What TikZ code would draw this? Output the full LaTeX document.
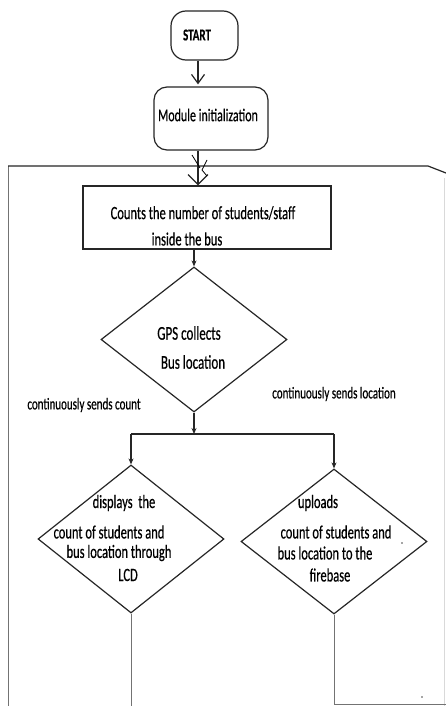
\documentclass[tikz,border=0pt]{standalone}
\usepackage{fontspec}
\setmainfont{Carlito}[FakeBold=0.6]
\usepackage{graphicx}
\usetikzlibrary{shapes.geometric,arrows.meta,calc}
\newcommand\sx[1]{\scalebox{1}[1.5]{#1}}
\begin{document}
\begin{tikzpicture}[x=1pt,y=-1pt,
  ln/.style={line width=1.2pt,draw=black!85},
  gry/.style={line width=1pt,draw=black!55},
  txt/.style={inner sep=0pt,font=\fontsize{12.5}{14}\selectfont},
  lbl/.style={inner sep=0pt,font=\fontsize{11}{13}\selectfont},
  rbox/.style={ln,rectangle,inner sep=0pt},
  dia/.style={ln,diamond,inner sep=0pt,minimum width=186pt},
  arr/.style={ln,-{Stealth[length=6pt,width=5pt]}},
  varr/.style={ln,-{Straight Barb[length=9pt,width=13pt]}}
]
\fill[white] (0,0) rectangle (446,706);
\useasboundingbox (0,0) rectangle (446,706);

% nodes
\node[rbox,rounded corners=15pt,minimum width=67pt,minimum height=49pt] (start) at (204.5,35.5) {};
\node[txt,font=\bfseries\fontsize{11}{13}\selectfont] (startT) at (197,35) {\sx{START}};

\node[rbox,rounded corners=13pt,minimum width=114pt,minimum height=63pt] (module) at (211,118.5) {};
\node[txt,font=\fontsize{12}{14}\selectfont] (moduleT) at (208,115) {\sx{Module initialization}};

\node[rbox,minimum width=248pt,minimum height=63pt] (counts) at (207,217.5) {};
\node[txt] (countsT1) at (203,213) {\sx{Counts the number of students/staff}};
\node[txt] (countsT2) at (187,239) {\sx{inside the bus}};

\node[dia,minimum height=145pt] (gps) at (194,339.5) {};
\node[txt,font=\fontsize{13}{15}\selectfont] (gpsT1) at (189,333) {\sx{GPS collects}};
\node[txt,font=\fontsize{13}{15}\selectfont] (gpsT2) at (193,362) {\sx{Bus location}};

\node[lbl] (lblL) at (84,405) {\sx{continuously sends count}};
\node[lbl] (lblR) at (334,394) {\sx{continuously sends location}};

\node[dia,minimum height=148pt] (ld) at (131,539) {};
\node[txt] (ldT1) at (124,503) {\sx{displays\ \ the}};
\node[txt] (ldT2) at (109,532) {\sx{count of students and}};
\node[txt] (ldT3) at (119,553) {\sx{bus location through}};
\node[txt] (ldT4) at (128,575) {\sx{LCD}};

\node[dia,minimum height=145pt] (rd) at (334,541.5) {};
\node[txt] (rdT1) at (318,503) {\sx{uploads}};
\node[txt] (rdT2) at (336,532) {\sx{count of students and}};
\node[txt] (rdT3) at (325,553) {\sx{bus location to the}};
\node[txt] (rdT4) at (330,575) {\sx{firebase}};

% coordinates
\coordinate (loopBL) at (8,706);
\coordinate (loopTL) at (8,166);
\coordinate (loopTR) at (428,166);
\coordinate (loopEnd) at (446,173);
\coordinate (bar) at (194,434);
\coordinate (bottom) at (0,706);
\coordinate (rcorner) at (446,704);

% loop back line
\draw[gry] (loopBL) -- (loopTL);
\draw[ln] (loopTL) -- (loopTR) -- (loopEnd);
\draw[line width=0.6pt,draw=black!15] (444,178) -- (444,706);

% connectors
\draw[varr] ($(start.south)+(-6.5,0)$) -- ($(module.north)+(-13,-2)$);
\draw[ln,-{Straight Barb[length=10pt,width=20pt]}] ($(module.south)+(-13,0)$) -- ($(counts.north)+(-9,0)$);
\draw[line width=0.8pt] (192,155) -- (200,168);
\draw[line width=0.8pt] (207,160) -- (202,170) -- (207,176);

\draw[arr] (gps.north |- counts.south) -- (gps.north);
\draw[arr] (gps.south) -- (bar);
\draw[ln] (ld.north |- bar) -- (rd.north |- bar);
\draw[arr] (ld.north |- bar) -- (ld.north);
\draw[arr] (rd.north |- bar) -- (rd.north);

\draw[gry] (ld.south) -- (ld.south |- bottom);
\draw[gry] (rd.south) -- (rd.south |- rcorner) -- (rcorner);

\fill[black!70] (402,543) circle (0.9pt);
\fill[black!70] (422,697) circle (0.9pt);
\end{tikzpicture}
\end{document}
